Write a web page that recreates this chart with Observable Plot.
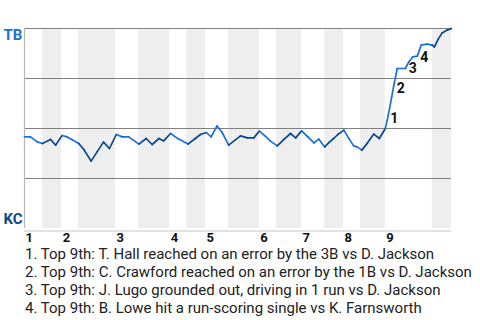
<!DOCTYPE html>
<html>
<head>
<meta charset="utf-8">
<script src="https://cdn.jsdelivr.net/npm/d3@7"></script>
<script src="https://cdn.jsdelivr.net/npm/@observablehq/plot@0.6"></script>
<style>
  html, body { margin: 0; padding: 0; background: #fff; }
  #chart { width: 480px; height: 245px; }
  #notes { font-family: Roboto, sans-serif; font-size: 15px; line-height: 18px; color: #222; padding-left: 25px; white-space: nowrap; }
</style>
</head>
<body>
<div id="chart"></div>
<div id="notes"></div>
<script>
// Game progress (0-100) and Tampa Bay win probability (%) per event
const progress = [0,1.4,3.0,4.2,6.1,7.3,8.8,10.0,11.2,12.7,13.9,15.6,17.0,18.5,19.9,21.5,22.9,24.4,26.8,28.5,29.9,31.5,32.6,34.2,36.1,38.3,40.0,41.2,42.6,43.7,45.1,46.3,47.8,50.6,52.2,53.7,55.0,56.4,57.6,59.2,60.7,62.3,63.5,64.9,66.3,67.8,68.9,70.3,71.4,72.4,73.5,74.8,75.9,77.1,77.9,79.0,80.3,81.8,83.1,84.5,85.2,86.0,86.5,87.3,89.2,90.0,90.9,92.0,92.9,94.3,95.5,96.0,96.9,97.8,99.0,100];
const winProb  = [45.8,45.8,43.3,42.5,44.5,41.7,46.5,45.8,44.4,42.5,39.5,33.7,38.3,43.2,40.0,47.0,45.8,45.8,42.2,45.0,42.0,45.0,43.8,47.5,44.7,42.2,45.0,47.0,48.0,45.8,51.3,48.0,41.7,46.3,45.3,45.3,48.7,46.2,43.7,41.3,44.4,47.5,45.3,48.8,45.9,42.8,44.7,40.8,43.2,45.0,47.2,49.2,45.2,41.3,40.8,39.2,42.7,47.2,45.0,50.0,56.7,65.8,71.7,80.0,80.0,83.3,85.8,86.2,91.7,92.2,91.7,90.8,94.7,97.8,99.2,100];
// Half-inning starts (top, bottom, top, ...)
const halfStarts = [0,4.2,8.7,12.6,21.3,26.7,34.0,38.0,42.4,47.8,55.0,59.0,64.9,70.3,74.7,78.7,84.5,95.5];
const inningLabels = ["1","2","3","4","5","6","7","8","9"];
const teams = ["TB","KC"];
const eventIdx = [60,62,65,67];
const eventNums = ["1","2","3","4"];
const eventNotes = [
  "1. Top 9th: T. Hall reached on an error by the 3B vs D. Jackson",
  "2. Top 9th: C. Crawford reached on an error by the 1B vs D. Jackson",
  "3. Top 9th: J. Lugo grounded out, driving in 1 run vs D. Jackson",
  "4. Top 9th: B. Lowe hit a run-scoring single vs K. Farnsworth"
];

const LIGHT = "#1b6fdc", DARK = "#0a478b";
const points = progress.map((x, i) => ({x, y: winProb[i]}));
const halfOf = x => { let k = 0; for (let i = 0; i < halfStarts.length; i++) if (x >= halfStarts[i]) k = i; return k; };
const segments = points.slice(1).map((p, i) => {
  const a = points[i];
  const h = halfOf((a.x + p.x) / 2);
  return {x1: a.x, y1: a.y, x2: p.x, y2: p.y, color: h % 2 === 0 ? LIGHT : DARK};
});
const bands = halfStarts.map((s, i) => ({x1: s, x2: i + 1 < halfStarts.length ? halfStarts[i + 1] : 100, bottom: i % 2 === 1}))
  .filter(d => d.bottom);
const innings = inningLabels.map((t, i) => ({x: halfStarts[i * 2], t}));
const offsets = [[6,3],[7,3],[4,7],[7,1]];

const eventMarks = eventIdx.map((idx, k) => Plot.text([points[idx]], {
  x: "x", y: "y", text: () => eventNums[k], dx: offsets[k][0], dy: offsets[k][1],
  fontSize: 14, fontWeight: "bold", fill: "#111", textAnchor: "middle"
}));

const chart = Plot.plot({
  width: 480, height: 245,
  marginTop: 28, marginBottom: 17, marginLeft: 24, marginRight: 29,
  style: {fontFamily: "Roboto, sans-serif", background: "#fff"},
  x: {domain: [0, 100], axis: null},
  y: {domain: [0, 100], axis: null},
  marks: [
    Plot.rect(bands, {x1: "x1", x2: "x2", y1: 0, y2: 100, fill: "#eeeeee"}),
    Plot.ruleY([25, 50, 75, 100], {stroke: "#808080", strokeWidth: 1.2}),
    Plot.ruleY([0], {stroke: "#c8c8c8", strokeWidth: 1.2, dy: 2.5}),
    Plot.ruleX([0], {stroke: "#b8b8b8", strokeWidth: 1.2, y1: 0, y2: 100}),
    Plot.link(segments, {x1: "x1", y1: "y1", x2: "x2", y2: "y2", stroke: "color", strokeWidth: 1.7, strokeLinecap: "round"}),
    ...eventMarks,
    Plot.text(innings, {x: "x", text: "t", frameAnchor: "bottom", lineAnchor: "top", dy: 4, dx: 1, textAnchor: "start", fontSize: 13, fontWeight: "bold", fill: "#111"}),
    Plot.text([teams[0]], {frameAnchor: "top-left", lineAnchor: "middle", text: d => d, dx: -21, dy: 6.5, textAnchor: "start", fontSize: 15, fontWeight: "bold", fill: LIGHT}),
    Plot.text([teams[1]], {frameAnchor: "bottom-left", lineAnchor: "middle", text: d => d, dx: -21, dy: -9, textAnchor: "start", fontSize: 15, fontWeight: "bold", fill: DARK})
  ]
});
document.getElementById("chart").append(chart);
const notes = document.getElementById("notes");
eventNotes.forEach(t => { const d = document.createElement("div"); d.textContent = t; notes.append(d); });
</script>
</body>
</html>
